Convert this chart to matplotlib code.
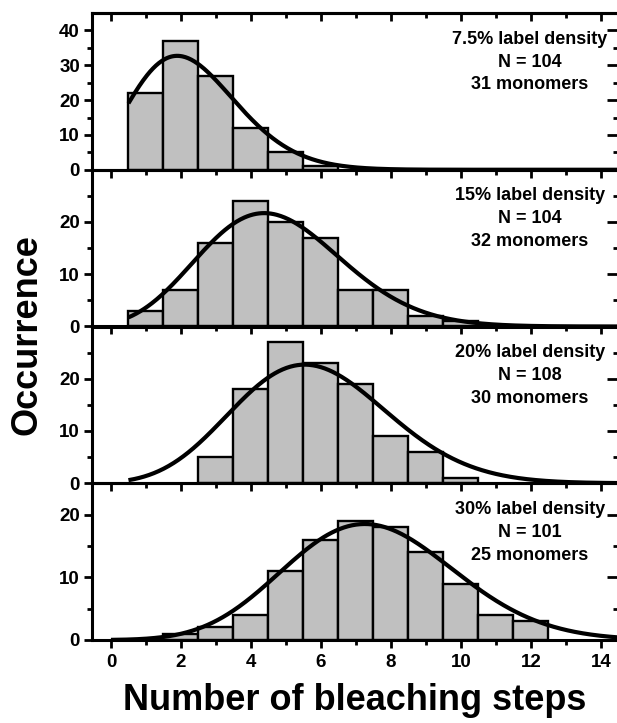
import math
import numpy as np
import matplotlib
matplotlib.use("Agg")
import matplotlib.pyplot as plt
from matplotlib.ticker import MultipleLocator, FixedLocator

plt.rcParams['font.family'] = ['Liberation Sans', 'DejaVu Sans']
plt.rcParams['font.weight'] = 'bold'

# histogram data: bleaching steps vs occurrence
steps_75 = [1, 2, 3, 4, 5, 6]
counts_75 = [22, 37, 27, 12, 5, 1]
steps_15 = [1, 2, 3, 4, 5, 6, 7, 8, 9, 10]
counts_15 = [3, 7, 16, 24, 20, 17, 7, 7, 2, 1]
steps_20 = [3, 4, 5, 6, 7, 8, 9, 10]
counts_20 = [5, 18, 27, 23, 19, 9, 6, 1]
steps_30 = [2, 3, 4, 5, 6, 7, 8, 9, 10, 11, 12]
counts_30 = [1, 2, 4, 11, 16, 19, 18, 14, 9, 4, 3]

labels = ["7.5% label density\nN = 104\n31 monomers",
          "15% label density\nN = 104\n32 monomers",
          "20% label density\nN = 108\n30 monomers",
          "30% label density\nN = 101\n25 monomers"]

# binomial fit curves (n sites, p, peak height, first x of curve)
fit_n = 32
fit_p = [0.073, 0.148, 0.183, 0.235]
fit_peak = [32.7, 21.7, 22.7, 18.5]
fit_start = [0.5, 0.5, 0.5, 0.0]

y_max = [45, 30, 30, 25]
y_major = [[0, 10, 20, 30, 40], [0, 10, 20], [0, 10, 20], [0, 10, 20]]
y_minor = [[5, 15, 25, 35], [5, 15, 25], [5, 15, 25], [5, 15]]

all_steps = [steps_75, steps_15, steps_20, steps_30]
all_counts = [counts_75, counts_15, counts_20, counts_30]


def binom_curve(x, n, p):
    return np.array([math.exp(math.lgamma(n + 1) - math.lgamma(k + 1) - math.lgamma(n - k + 1)
                              + k * math.log(p) + (n - k) * math.log(1 - p)) for k in x])


fig = plt.figure(figsize=(6.17, 7.23), dpi=100)
W, H = 617.0, 723.0
left_px, right_px = 91.7, 618.5
top_px, bottom_px = 13.0, 640.0
panel_h = (bottom_px - top_px) / 4

for i in range(4):
    y0 = top_px + (i + 1) * panel_h  # bottom edge of panel i in pixels from top
    ax = fig.add_axes([left_px / W, 1 - y0 / H, (right_px - left_px) / W, panel_h / H])
    ax.patch.set_alpha(0)
    ax.bar(all_steps[i], all_counts[i], width=1, color='#c0c0c0', edgecolor='black', linewidth=1.7, zorder=2)
    xs = np.linspace(fit_start[i], 14.5, 500)
    ys = binom_curve(xs, fit_n, fit_p[i])
    ys = ys / ys.max() * fit_peak[i]
    ax.plot(xs, ys, color='black', linewidth=3, zorder=3, solid_capstyle='butt')
    ax.set_xlim(-0.55, 14.5)
    ax.set_ylim(0, y_max[i])
    for s in ax.spines.values():
        s.set_linewidth(2.2)
    ax.xaxis.set_major_locator(MultipleLocator(2))
    ax.xaxis.set_minor_locator(MultipleLocator(1))
    ax.yaxis.set_major_locator(FixedLocator(y_major[i]))
    ax.yaxis.set_minor_locator(FixedLocator(y_minor[i]))
    ax.tick_params(axis='both', which='major', direction='out', length=6, width=2, labelsize=13.5)
    ax.tick_params(axis='both', which='minor', direction='out', length=3.5, width=2)
    ax.tick_params(axis='y', pad=2.5)
    ax.tick_params(axis='x', pad=4)
    if i < 3:
        ax.tick_params(axis='x', labelbottom=False)
    else:
        ax.set_xticks([0, 2, 4, 6, 8, 10, 12, 14])
    for t in ax.get_xticklabels() + ax.get_yticklabels():
        t.set_fontweight('bold')

    sec_y = ax.secondary_yaxis('right')
    sec_y.yaxis.set_major_locator(FixedLocator(y_major[i]))
    sec_y.yaxis.set_minor_locator(FixedLocator(y_minor[i]))
    sec_y.tick_params(which='major', direction='in', length=9, width=2, labelright=False)
    sec_y.tick_params(which='minor', direction='in', length=4, width=2)
    sec_y.spines['right'].set_linewidth(2.2)
    if i == 0:
        sec_x = ax.secondary_xaxis('top')
        sec_x.xaxis.set_major_locator(MultipleLocator(2))
        sec_x.xaxis.set_minor_locator(MultipleLocator(1))
        sec_x.tick_params(which='major', direction='in', length=6, width=2, labeltop=False)
        sec_x.tick_params(which='minor', direction='in', length=3.5, width=2)
        sec_x.spines['top'].set_linewidth(2.2)

    ax.text(0.832, 0.687, labels[i], transform=ax.transAxes, ha='center', va='center',
            fontsize=13, fontweight='bold', linespacing=1.45, zorder=4)

fig.text(27 / W, 1 - 335 / H, "Occurrence", rotation=90, ha='center', va='center',
         fontsize=26, fontweight='bold')
fig.text(355 / W, 1 - 701 / H, "Number of bleaching steps", ha='center', va='center',
         fontsize=26, fontweight='bold')

fig.savefig("out.png", dpi=100)
